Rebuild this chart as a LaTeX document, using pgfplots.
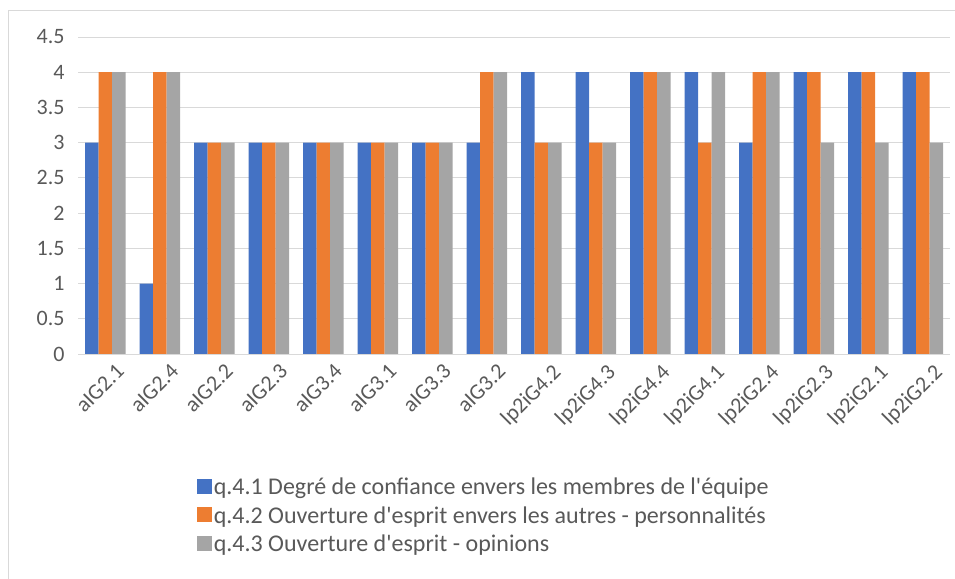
\documentclass[border=0pt]{standalone}
\usepackage{pgfplots}
\pgfplotsset{compat=1.18}
\usepackage{fontspec}
\setmainfont{Carlito}[Ligatures=TeXOff]
\definecolor{cblue}{HTML}{4472C4}
\definecolor{corange}{HTML}{ED7D31}
\definecolor{cgray}{HTML}{A5A5A5}
\definecolor{tgray}{HTML}{595959}
\definecolor{ggray}{HTML}{D9D9D9}
\begin{document}
\begin{tikzpicture}
\useasboundingbox (0,0) rectangle (955bp,579bp);
\draw[ggray] (8bp,0) -- (8bp,569bp) -- (955bp,569bp);
\begin{axis}[
  at={(78bp,225bp)}, anchor=south west,
  scale only axis, width=872bp, height=317bp,
  ybar=0pt, bar width=13.5bp,
  xmin=-0.5, xmax=15.5, ymin=0, ymax=4.5,
  xtick={0,...,15},
  xticklabels={aIG2.1,aIG2.4,aIG2.2,aIG2.3,aIG3.4,aIG3.1,aIG3.3,aIG3.2,lp2iG4.2,lp2iG4.3,lp2iG4.4,lp2iG4.1,lp2iG2.4,lp2iG2.3,lp2iG2.1,lp2iG2.2},
  ytick={0,0.5,...,4.5},
  /pgf/number format/assume math mode=true,
  yticklabel style={/pgf/number format/fixed, /pgf/number format/precision=1},
  ymajorgrids, grid style={ggray, line width=0.8bp},
  axis line style={draw=none},
  extra description/.code={\draw[ggray, line width=0.8bp] (rel axis cs:0,0) -- (rel axis cs:1,0);},
  major tick length=0pt,
  ticklabel style={font=\fontsize{22bp}{26bp}\selectfont, text=tgray},
  xticklabel style={rotate=45, anchor=north east, inner sep=2bp, yshift=-11bp, xshift=3bp},
  yticklabel style={xshift=-10bp},
  legend style={at={(0.136,-0.385)}, anchor=north west, draw=none,
    font=\fontsize{24bp}{29bp}\selectfont, text=tgray, row sep=6bp, inner sep=0bp,
    /tikz/every even column/.append style={column sep=2bp}},
  legend cell align=left,
  legend image code/.code={\fill[#1] (0bp,-7bp) rectangle (15bp,8bp);},
]
\addplot[fill=cblue, draw=none] coordinates {(0,3)(1,1)(2,3)(3,3)(4,3)(5,3)(6,3)(7,3)(8,4)(9,4)(10,4)(11,4)(12,3)(13,4)(14,4)(15,4)};
\addplot[fill=corange, draw=none] coordinates {(0,4)(1,4)(2,3)(3,3)(4,3)(5,3)(6,3)(7,4)(8,3)(9,3)(10,4)(11,3)(12,4)(13,4)(14,4)(15,4)};
\addplot[fill=cgray, draw=none] coordinates {(0,4)(1,4)(2,3)(3,3)(4,3)(5,3)(6,3)(7,4)(8,3)(9,3)(10,4)(11,4)(12,4)(13,3)(14,3)(15,3)};
\legend{q.4.1 Degré de confiance envers les membres de l'équipe, q.4.2 Ouverture d'esprit envers les autres - personnalités, q.4.3 Ouverture d'esprit - opinions}
\end{axis}
\end{tikzpicture}
\end{document}
